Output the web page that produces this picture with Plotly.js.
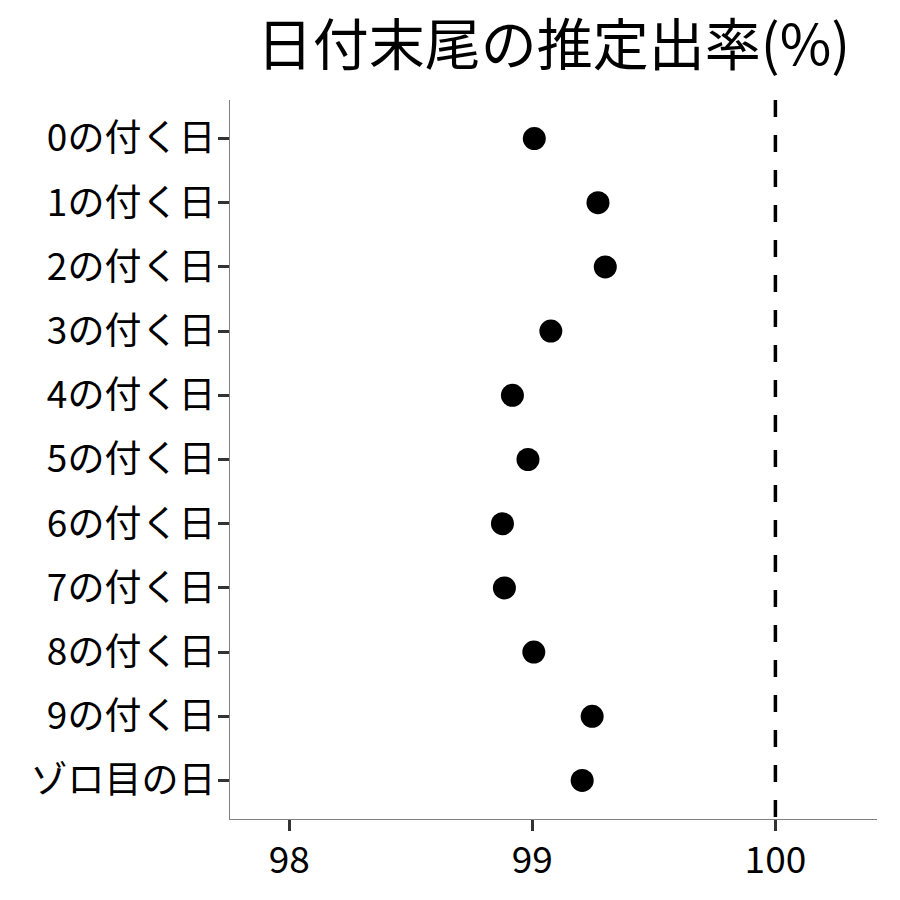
<!DOCTYPE html>
<html>
<head>
<meta charset="utf-8">
<script src="https://cdn.plot.ly/plotly-3.0.1.min.js"></script>
<style>html,body{margin:0;padding:0;background:#fff;}#chart{width:900px;height:900px;}</style>
</head>
<body>
<div id="chart"></div>
<script>
const categories = ["0の付く日","1の付く日","2の付く日","3の付く日","4の付く日","5の付く日","6の付く日","7の付く日","8の付く日","9の付く日","ゾロ目の日"];
const rates = [99.008, 99.270, 99.300, 99.076, 98.918, 98.982, 98.877, 98.885, 99.006, 99.246, 99.205];
const xTicks = [98, 99, 100];
const refValue = 100;

const font = "Noto Sans CJK JP";
const trace = {
  type: "scatter",
  mode: "markers",
  x: rates,
  y: categories,
  marker: {color: "#000000", size: 23},
  hoverinfo: "x+y",
  showlegend: false
};
const layout = {
  width: 900, height: 900,
  margin: {l: 230, r: 23, t: 100, b: 81},
  paper_bgcolor: "#ffffff",
  plot_bgcolor: "#ffffff",
  font: {family: font, color: "#000000", size: 37},
  title: {text: "日付末尾の推定出率(%)", font: {family: font, size: 56, color: "#000000"},
          x: 0.5, xref: "paper", xanchor: "center", y: 0.95, yref: "container", yanchor: "middle"},
  xaxis: {
    range: [97.756, 100.418],
    tickvals: xTicks, ticktext: xTicks.map(String),
    showgrid: false, zeroline: false,
    showline: true, linecolor: "#808080", linewidth: 1.2,
    ticks: "outside", ticklen: 11, tickwidth: 3, tickcolor: "#333333",
    ticklabelstandoff: -3,
    tickfont: {family: font, size: 37, color: "#000000"}
  },
  yaxis: {
    type: "category",
    categoryorder: "array", categoryarray: categories,
    range: [10.6, -0.6],
    showgrid: false, zeroline: false,
    showline: true, linecolor: "#808080", linewidth: 1.2,
    ticks: "outside", ticklen: 11, tickwidth: 3, tickcolor: "#333333",
    ticklabelstandoff: -5,
    tickfont: {family: font, size: 37, color: "#000000"}
  },
  shapes: [{
    type: "line", xref: "x", yref: "paper",
    x0: refValue, x1: refValue, y0: 1, y1: 0,
    line: {color: "#000000", width: 3.5, dash: "17px,18px"}
  }]
};
Plotly.newPlot("chart", [trace], layout, {staticPlot: true});
</script>
</body>
</html>
